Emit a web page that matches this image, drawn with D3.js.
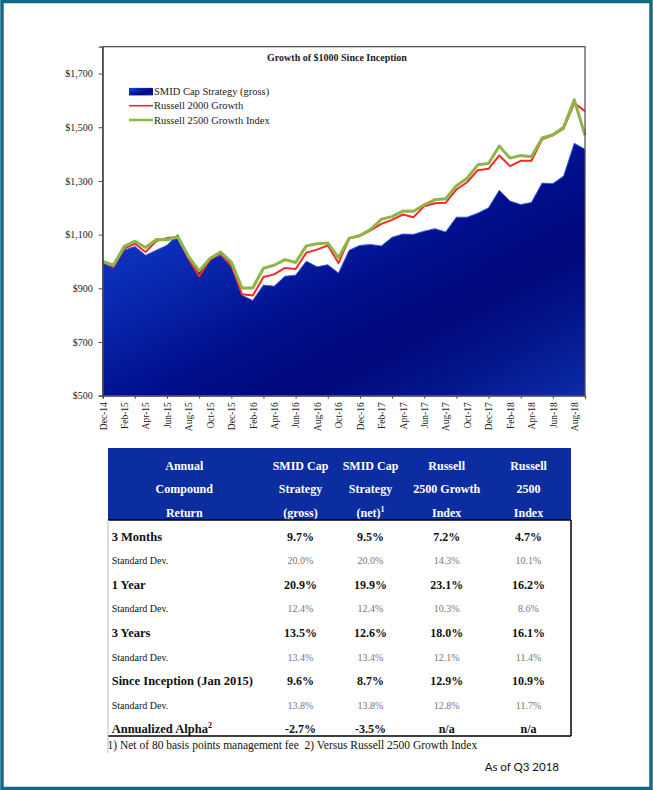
<!DOCTYPE html>
<html><head><meta charset="utf-8">
<script src="https://cdn.jsdelivr.net/npm/d3@7"></script>
<style>body{margin:0;background:#fff}svg{display:block}</style>
</head><body><svg id="c" width="653" height="790"></svg>
<script>
const months = ["Dec-14","Jan-15","Feb-15","Mar-15","Apr-15","May-15","Jun-15","Jul-15","Aug-15","Sep-15","Oct-15","Nov-15",
"Dec-15","Jan-16","Feb-16","Mar-16","Apr-16","May-16","Jun-16","Jul-16","Aug-16","Sep-16","Oct-16","Nov-16",
"Dec-16","Jan-17","Feb-17","Mar-17","Apr-17","May-17","Jun-17","Jul-17","Aug-17","Sep-17","Oct-17","Nov-17",
"Dec-17","Jan-18","Feb-18","Mar-18","Apr-18","May-18","Jun-18","Jul-18","Aug-18","Sep-18"];
const smid = [995,977,1042,1056,1023,1042,1060,1100,1023,961,1011,1023,
980,874,855,912,908,945,949,1001,980,988,957,1042,
1060,1063,1058,1090,1102,1101,1113,1122,1110,1165,1165,1180,
1200,1265,1225,1212,1220,1292,1290,1318,1440,1418];
const r2000g = [998,980,1048,1066,1035,1076,1087,1091,1011,945,1007,1029,
986,878,873,942,952,976,972,1033,1044,1060,994,1085,
1095,1116,1140,1155,1175,1165,1206,1217,1219,1268,1295,1340,
1345,1395,1355,1375,1375,1455,1470,1495,1590,1560];
const r2500g = [1000,986,1056,1075,1052,1082,1081,1091,1019,965,1011,1035,
998,901,901,975,986,1007,996,1058,1066,1069,1014,1087,
1097,1120,1157,1167,1188,1187,1211,1230,1234,1282,1310,1360,
1365,1430,1385,1395,1390,1460,1472,1500,1602,1470];
const yTicks = [500,700,900,1100,1300,1500,1700];
const chartTitle = "Growth of $1000 Since Inception";
const legendLabels = ["SMID Cap Strategy (gross)","Russell 2000 Growth","Russell 2500 Growth Index"];

const headerCols = [["Annual","Compound","Return"],["SMID Cap","Strategy","(gross)"],["SMID Cap","Strategy","(net)"],["Russell","2500 Growth","Index"],["Russell","2500","Index"]];
const rowLabels = ["3 Months","Standard Dev.","1 Year","Standard Dev.","3 Years","Standard Dev.","Since Inception (Jan 2015)","Standard Dev.","Annualized Alpha"];
const colGross = ["9.7%","20.0%","20.9%","12.4%","13.5%","13.4%","9.6%","13.8%","-2.7%"];
const colNet   = ["9.5%","20.0%","19.9%","12.4%","12.6%","13.4%","8.7%","13.8%","-3.5%"];
const colR2500G= ["7.2%","14.3%","23.1%","10.3%","18.0%","12.1%","12.9%","12.8%","n/a"];
const colR2500 = ["4.7%","10.1%","16.2%","8.6%","16.1%","11.4%","10.9%","11.7%","n/a"];
const footnote = "1) Net of 80 basis points management fee  2) Versus Russell 2500 Growth Index";
const asOf = "As of Q3 2018";

const SERIF = "'Liberation Serif','Times New Roman',serif";
const svg = d3.select("#c");

// page border
svg.append("rect").attr("x",2).attr("y",1.5).attr("width",649).attr("height",787)
  .attr("fill","none").attr("stroke","#0e6b88").attr("stroke-width",3.5);

// gradient
const defs = svg.append("defs");
const g1 = defs.append("linearGradient").attr("id","blueGrad")
  .attr("x1","0").attr("y1","0").attr("x2","1").attr("y2","1");
[[0,"#2048d4"],[0.3,"#0a2cb4"],[0.55,"#000e8a"],[0.7,"#00087a"],[0.85,"#04188e"],[1,"#0c2ca6"]]
  .forEach(([o,c])=>g1.append("stop").attr("offset",o).attr("stop-color",c));

const L = 102.7, R = 585, T = 46.7, B = 395.7;
const x = d3.scalePoint().domain(months).range([L, R]);
const y = d3.scaleLinear().domain([500,1800]).range([B, T]);

// area
const area = d3.area().x((d,i)=>x(months[i])).y0(B).y1(d=>y(d));
svg.append("path").datum(smid).attr("d",area).attr("fill","url(#blueGrad)");
svg.append("path").datum(smid).attr("d",d3.line().x((d,i)=>x(months[i])).y(d=>y(d)))
  .attr("fill","none").attr("stroke","#3a5ee0").attr("stroke-width",1);

const line = d3.line().x((d,i)=>x(months[i])).y(d=>y(d));
svg.append("path").datum(r2000g).attr("d",line).attr("fill","none")
  .attr("stroke","#ff2626").attr("stroke-width",2).attr("stroke-linejoin","round");
svg.append("path").datum(r2500g).attr("d",line).attr("fill","none")
  .attr("stroke","#8db649").attr("stroke-width",3).attr("stroke-linejoin","round");

// frame
svg.append("rect").attr("x",L).attr("y",T).attr("width",R-L).attr("height",B-T)
  .attr("fill","none").attr("stroke","#4a4a4a").attr("stroke-width",1.2);

// y axis
const ya = svg.append("g").attr("transform",`translate(${L},0)`)
  .call(d3.axisLeft(y).tickValues(yTicks).tickSize(4).tickPadding(6).tickFormat(d=>"$"+d3.format(",")(d)));
ya.select(".domain").attr("stroke","#4a4a4a").attr("stroke-width",1.2);
ya.selectAll("line").attr("stroke","#4a4a4a");
ya.selectAll("text").style("font-family",SERIF).style("font-size","10px").attr("fill","#222");

// x axis ticks every 3 months
const xt = svg.append("g").attr("transform",`translate(0,${B})`)
  .call(d3.axisBottom(x).tickValues(months.filter((m,i)=>i%3===0)).tickSize(3).tickFormat(""));
xt.select(".domain").attr("stroke","#4a4a4a").attr("stroke-width",1.2);
xt.selectAll("line").attr("stroke","#4a4a4a");
// x labels every 2 months
const xl = svg.append("g").attr("transform",`translate(0,${B})`)
  .call(d3.axisBottom(x).tickValues(months.filter((m,i)=>i%2===0)).tickSize(0));
xl.select(".domain").remove();
xl.selectAll("text").attr("transform","rotate(-90)").attr("x",-6.5).attr("y",0).attr("dy","0.35em")
  .style("text-anchor","end").style("font-family",SERIF).style("font-size","9.5px").attr("fill","#222");

// title
svg.append("text").attr("x",337).attr("y",60.5).attr("text-anchor","middle")
  .style("font-family",SERIF).style("font-size","10px").style("font-weight","bold").attr("fill","#222").text(chartTitle);

// legend
const lg = svg.append("g");
const ly = [91.7,105.7,120];
lg.append("rect").attr("x",129).attr("y",ly[0]-3.8).attr("width",24).attr("height",7.5).attr("fill","url(#blueGrad)");
lg.append("line").attr("x1",129).attr("x2",153).attr("y1",ly[1]).attr("y2",ly[1]).attr("stroke","#ff2626").attr("stroke-width",1.6);
lg.append("line").attr("x1",129).attr("x2",153).attr("y1",ly[2]).attr("y2",ly[2]).attr("stroke","#8db649").attr("stroke-width",2.5);
legendLabels.forEach((t,i)=>lg.append("text").attr("x",154).attr("y",ly[i]+3.5)
  .style("font-family",SERIF).style("font-size","10.5px").attr("fill","#222").text(t));

// table
const TL = 108, TR = 571, HT = 448, HB = 520;
svg.append("rect").attr("x",TL).attr("y",HT).attr("width",TR-TL).attr("height",HB-HT).attr("fill","#0c2d9f");
const colX = [184.3, 300.5, 370.5, 446.7, 528.5];
const hy = [469.7, 493.3, 517.3];
headerCols.forEach((lines,c)=>lines.forEach((t,r)=>{
  const tx = svg.append("text").attr("x",colX[c]).attr("y",hy[r]).attr("text-anchor","middle")
    .style("font-family",SERIF).style("font-size","12px").style("font-weight","bold").attr("fill","#fff").text(t);
  if(c===2 && r===2) tx.append("tspan").attr("dy",-5).style("font-size","8px").text("1");
}));

const rowY = d3.scaleLinear().domain([0,8]).range([536.7,729.3]);
const cols = [colGross,colNet,colR2500G,colR2500];
rowLabels.forEach((lab,i)=>{
  const bold = i%2===0;
  const yy = rowY(i) + (bold?4:3.5);
  const t = svg.append("text").attr("x",111.7).attr("y",yy)
    .style("font-family",SERIF).style("font-size",bold?"12.5px":"10px").style("font-weight",bold?"bold":"normal")
    .attr("fill","#111").text(lab);
  if(i===8) t.append("tspan").attr("dy",-5.5).style("font-size","8px").text("2");
  cols.forEach((col,c)=>{
    svg.append("text").attr("x",colX[c+1]).attr("y",yy).attr("text-anchor","middle")
      .style("font-family",SERIF).style("font-size",bold?"12px":"10px").style("font-weight",bold?"bold":"normal")
      .attr("fill",bold?"#111":"#777").text(col[i]);
  });
});
// table borders
svg.append("line").attr("x1",TL).attr("x2",TR).attr("y1",HB).attr("y2",HB).attr("stroke","#000").attr("stroke-width",1.5);
svg.append("line").attr("x1",TR).attr("x2",TR).attr("y1",HB).attr("y2",736).attr("stroke","#000").attr("stroke-width",1.5);
svg.append("line").attr("x1",TL).attr("x2",TR).attr("y1",736).attr("y2",736).attr("stroke","#000").attr("stroke-width",1.5);
svg.append("line").attr("x1",TL).attr("x2",TL).attr("y1",HB).attr("y2",753).attr("stroke","#bbb").attr("stroke-width",1);

svg.append("text").attr("x",107.5).attr("y",748.5).style("font-family",SERIF).style("font-size","11.5px")
  .style("white-space","pre").attr("fill","#111").text(footnote);
svg.append("text").attr("x",559).attr("y",771).attr("text-anchor","end")
  .style("font-family","Lato,'Open Sans',sans-serif").style("font-size","11.5px").attr("fill","#111").text(asOf);
</script>
</body></html>
